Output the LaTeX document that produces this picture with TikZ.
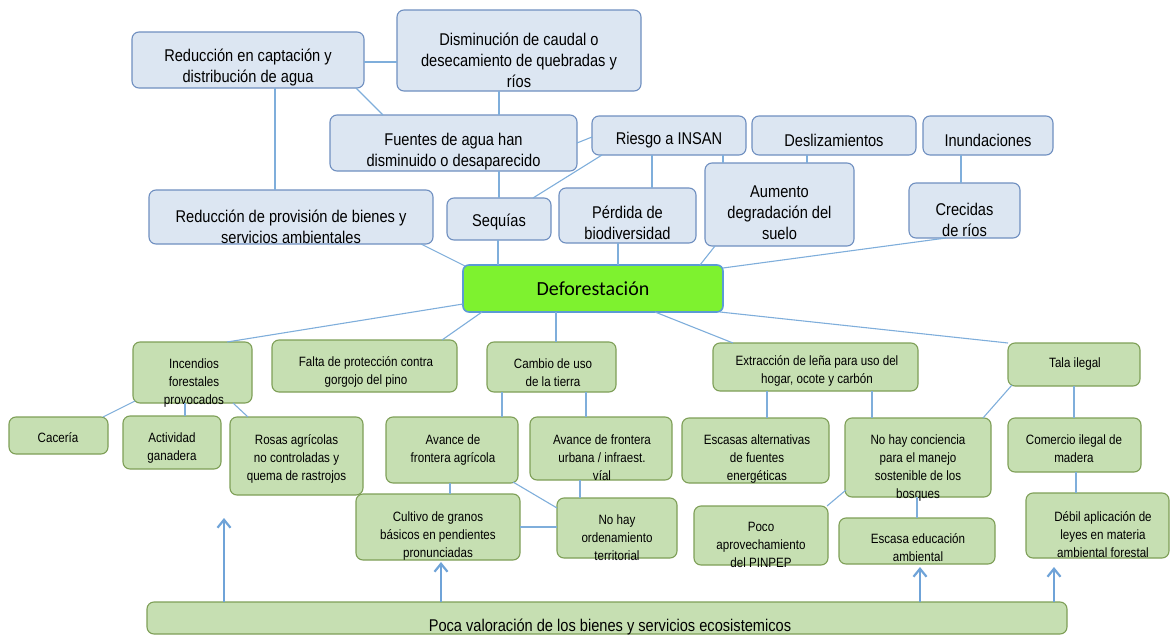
\documentclass[tikz,border=0pt]{standalone}
\usepackage{fontspec}
\setmainfont{Liberation Sans}[FakeStretch=0.86]
\newfontfamily\defofont{Carlito}
\usetikzlibrary{arrows.meta,calc}
\definecolor{bfill}{HTML}{DCE6F2}
\definecolor{bdraw}{HTML}{6F8FC0}
\definecolor{gfill}{HTML}{C6DFB2}
\definecolor{gdraw}{HTML}{7E9F57}
\definecolor{dfill}{HTML}{7EF22F}
\definecolor{ddraw}{HTML}{5B9BD5}
\definecolor{conncol}{HTML}{7FAEDB}
\definecolor{arrcol}{HTML}{6FA3D8}
% style, name, x1, y1, x2, y2, text, text x, text y
\newcommand{\bx}[9]{%
  \node[#1, minimum width={#5pt-#3pt}, minimum height={#6pt-#4pt}] (#2) at ({(#3+#5)/2},{(#4+#6)/2}) {};
  \node[#1t] (#2t) at (#8,#9) {#7};}
\tikzset{
  blue/.style={draw=bdraw, fill=bfill, line width=1.1pt, rounded corners=7pt, inner sep=0pt, outer sep=0pt},
  bluet/.style={font=\fontsize{17}{21}\selectfont, align=center, inner sep=0pt, yshift=-3pt},
  green/.style={draw=gdraw, fill=gfill, line width=1.1pt, rounded corners=7pt, inner sep=0pt, outer sep=0pt},
  greent/.style={font=\fontsize{13.5}{18}\selectfont, align=center, inner sep=0pt, yshift=-2pt},
  defo/.style={draw=ddraw, fill=dfill, line width=1.6pt, rounded corners=6pt, inner sep=0pt, outer sep=0pt, font=\defofont\fontsize{20}{24}\selectfont},
  cn/.style={draw=conncol, line width=1.1pt},
  arr/.style={draw=arrcol, line width=1.3pt, -{Straight Barb[length=8pt,width=13pt,line width=2.2pt]}}
}
\begin{document}
\begin{tikzpicture}[x=1pt,y=-1pt]
\useasboundingbox (0,0) rectangle (1171,635);
% ---------- top (effects) ----------
\bx{blue}{red1}{132}{32}{364}{88}{Reducción en captación y\\distribución de agua}{248}{65}
\bx{blue}{dis}{397}{10}{641}{91}{Disminución de caudal o\\desecamiento de quebradas y\\ríos}{519}{57}
\bx{blue}{fue}{330}{115}{577}{171}{Fuentes de agua han\\disminuido o desaparecido}{453.5}{149}
\bx{blue}{rie}{592}{116}{746}{155}{Riesgo a INSAN}{669}{137}
\bx{blue}{des}{752}{116}{916}{155}{Deslizamientos}{834}{137}
\bx{blue}{inu}{923}{116}{1053}{155}{Inundaciones}{988}{137}
\bx{blue}{prov}{149}{190}{433}{244}{Reducción de provisión de bienes y\\servicios ambientales}{291}{224}
\bx{blue}{seq}{447}{198}{551}{240}{Sequías}{499}{219}
\bx{blue}{per}{559}{188}{696}{243}{Pérdida de\\biodiversidad}{627.5}{220}
\bx{blue}{aum}{705}{163}{854}{246}{Aumento\\degradación del\\suelo}{779.5}{210}
\bx{blue}{cre}{909}{183}{1020}{238}{Crecidas\\de ríos}{964.5}{217}
% ---------- centre ----------
\node[defo, minimum width=260pt, minimum height=47pt] (def) at (593,288.5) {Deforestación};
% ---------- bottom (causes) ----------
\bx{green}{inc}{133}{342}{252}{403}{Incendios\\forestales\\provocados}{194}{381}
\bx{green}{cac}{9}{417}{108}{454}{Cacería}{58}{436}
\bx{green}{act}{123}{416}{221}{469}{Actividad\\ganadera}{172}{446}
\bx{green}{ros}{230}{417}{363}{495}{Rosas agrícolas\\no controladas y\\quema de rastrojos}{296.5}{457}
\bx{green}{fal}{272}{340}{457}{392}{Falta de protección contra\\gorgojo del pino}{366}{370}
\bx{green}{cam}{487}{342}{616}{392}{Cambio de uso\\de la tierra}{553}{371}
\bx{green}{aag}{386}{417}{518}{483}{Avance de\\frontera agrícola}{453}{448}
\bx{green}{aur}{530}{417}{672}{480}{Avance de frontera\\urbana / infraest.\\víal}{602}{456}
\bx{green}{cul}{356}{494}{520}{560}{Cultivo de granos\\básicos en pendientes\\pronunciadas}{438}{534}
\bx{green}{noo}{557}{498}{677}{558}{No hay\\ordenamiento\\territorial}{617}{536}
\bx{green}{ext}{713}{343}{918}{391}{Extracción de leña para uso del\\hogar, ocote y carbón}{817}{369}
\bx{green}{tal}{1008}{343}{1140}{386}{Tala ilegal}{1075}{362}
\bx{green}{esc}{682}{418}{829}{483}{Escasas alternativas\\de fuentes\\energéticas}{757}{457}
\bx{green}{nhc}{845}{418}{991}{497}{No hay conciencia\\para el manejo\\sostenible de los\\bosques}{918}{466}
\bx{green}{com}{1008}{418}{1141}{472}{Comercio ilegal de\\madera}{1074}{447}
\bx{green}{poc}{694}{506}{828}{565}{Poco\\aprovechamiento\\del PINPEP}{761}{543}
\bx{green}{ese}{839}{518}{995}{564}{Escasa educación\\ambiental}{918}{546}
\bx{green}{deb}{1026}{493}{1169}{558}{Débil aplicación de\\leyes en materia\\ambiental forestal}{1103}{533}
\node[green, minimum width=920pt, minimum height=32pt] (pva) at (607,618) {};
\node[inner sep=0pt, font=\fontsize{17}{21}\selectfont] (pvat) at (610,627) {Poca valoración de los bienes y servicios ecosistemicos};
% ---------- connectors (top) ----------
\draw[cn] (red1.east |- 0,62) -- (dis.west |- 0,62);
\draw[cn] ([xshift=-8pt]red1.south east) -- ([xshift=53pt]fue.north west);
\draw[cn] (red1.south -| 275,0) -- (prov.north -| 275,0);
\draw[cn] (dis.south -| 499,0) -- (fue.north -| 499,0);
\draw[cn] (fue.south -| 499,0) -- (seq.north -| 499,0);
\draw[cn] (fue.east |- 0,143) -- (rie.west |- 0,137);
\draw[cn] ([xshift=10pt]rie.south west) -- ([xshift=-18pt]seq.north east);
\draw[cn] (rie.south -| 652,0) -- (per.north -| 652,0);
\draw[cn] (rie.south -| 723,0) -- (aum.north -| 723,0);
\draw[cn] (des.south -| 807,0) -- (aum.north -| 807,0);
\draw[cn] (inu.south -| 961,0) -- (cre.north -| 961,0);
\draw[cn] ([xshift=-12pt]prov.south east) -- ([xshift=2pt,yshift=-1pt]def.north west);
\draw[cn] (seq.south -| 498,0) -- (def.north -| 498,0);
\draw[cn] (per.south -| 618,0) -- (def.north -| 618,0);
\draw[cn] ([xshift=10pt]aum.south west) -- (def.north -| 700,0);
\draw[cn] ([xshift=37pt]cre.south west) -- ([yshift=-3pt]def.north east);
% ---------- connectors (bottom) ----------
\draw[cn] (def.west |- 0,304) -- (inc.north -| 227,0);
\draw[cn] (def.south -| 482,0) -- (fal.north -| 442,0);
\draw[cn] (def.south -| 556,0) -- (cam.north -| 556,0);
\draw[cn] (def.south -| 655,0) -- (ext.north -| 733,0);
\draw[cn] ([xshift=-3pt]def.south east) -- (tal.north west);
\draw[cn] ([xshift=2pt,yshift=2pt]inc.south west) -- ([xshift=-5pt]cac.north east);
\draw[cn] (inc.south -| 185,0) -- (act.north -| 185,0);
\draw[cn] (inc.south -| 233,0) -- (ros.north -| 248,0);
\draw[cn] (cam.south -| 502,0) -- (aag.north -| 502,0);
\draw[cn] (cam.south -| 586,0) -- (aur.north -| 586,0);
\draw[cn] (aag.south -| 450,0) -- (cul.north -| 450,0);
\draw[cn] ([xshift=-5pt,yshift=1pt]aag.south east) -- (noo.west |- 0,508);
\draw[cn] (aur.south -| 580,0) -- (noo.north -| 580,0);
\draw[cn] (cul.east |- 0,527) -- (noo.west |- 0,527);
\draw[cn] (ext.south -| 767,0) -- (esc.north -| 767,0);
\draw[cn] (ext.south -| 872,0) -- (nhc.north -| 872,0);
\draw[cn] ([xshift=4pt,yshift=1pt]tal.south west) -- ([xshift=-8pt]nhc.north east);
\draw[cn] (tal.south -| 1074,0) -- (com.north -| 1074,0);
\draw[cn] (com.south -| 1076,0) -- (deb.north -| 1076,0);
\draw[cn] ([xshift=1pt,yshift=7pt]nhc.south west) -- ([xshift=-1pt]poc.north east);
\draw[cn] (nhc.south -| 917,0) -- (ese.north -| 917,0);
% ---------- arrows from the base ----------
\coordinate (a1) at (224,518);
\coordinate (a4) at (1054,567);
\draw[arr] (pva.north -| 224,0) -- (a1);
\draw[arr] (pva.north -| 441,0) -- ([yshift=-2pt]cul.south -| 441,0);
\draw[arr] (pva.north -| 920,0) -- ([yshift=-3pt]ese.south -| 920,0);
\draw[arr] (pva.north -| 1054,0) -- (a4);
\end{tikzpicture}
\end{document}
